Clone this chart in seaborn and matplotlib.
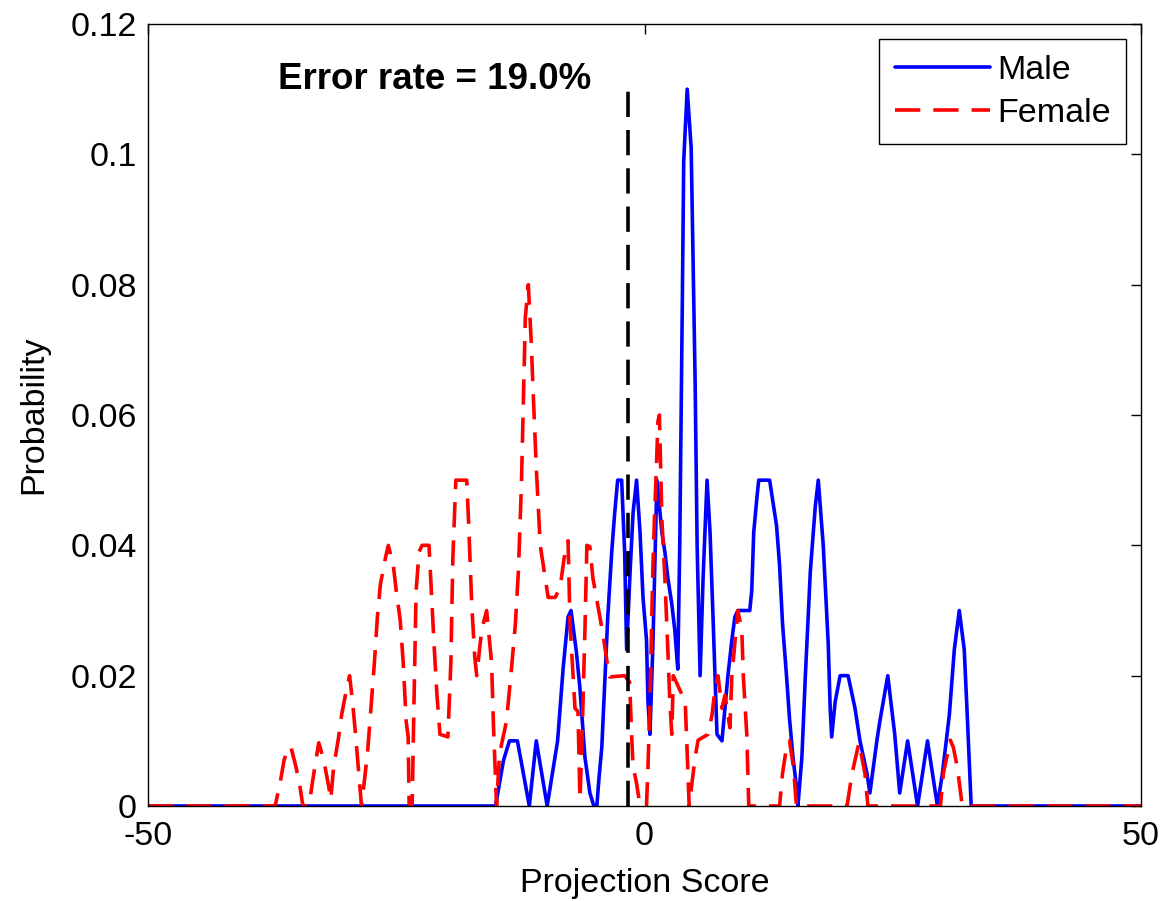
import numpy as np
import pandas as pd
import seaborn as sns
import matplotlib.pyplot as plt

# projection score vertices (x = score, y = probability)
male_x = [-50, -15.0, -14.2, -13.6, -12.8, -11.6, -10.9, -9.8, -8.75, -8.2, -7.7, -7.4,
          -6.85, -6.5, -6.0, -5.5, -5.1, -4.8, -4.6, -4.3, -4.0, -3.7, -3.3, -3.0, -2.7,
          -2.3, -2.0, -1.8, -1.45, -1.15, -0.8, -0.45, -0.15, 0.2, 0.35, 0.55, 0.85, 1.25,
          1.75, 2.05, 2.35, 2.75, 3.05, 3.35, 3.55, 3.8, 3.95, 4.3, 4.7, 4.9, 5.1, 5.3,
          5.6, 5.9, 6.3, 6.6, 6.9, 7.3, 7.8, 8.4, 8.8, 9.1, 9.4, 10.6, 10.8, 11.0, 11.3,
          11.5, 12.6, 13.3, 13.6, 13.9, 14.3, 14.6, 14.95, 15.3, 15.45, 15.85, 16.2, 16.7,
          17.2, 17.5, 18.0, 18.2, 18.5, 18.7, 18.85, 19.2, 19.7, 20.5, 21.2, 21.7, 22.4,
          22.7, 23.4, 23.7, 24.5, 25.2, 25.7, 26.5, 27.5, 28.5, 29.5, 30.0, 30.7, 31.2,
          31.7, 32.2, 32.5, 32.9, 50]
male_y = [0, 0, 0.007, 0.01, 0.01, 0, 0.01, 0, 0.01, 0.021, 0.029, 0.03,
          0.0235, 0.018, 0.0075, 0.002, 0, 0, 0.004, 0.009, 0.019, 0.029, 0.039, 0.045, 0.05,
          0.05, 0.039, 0.024, 0.036, 0.045, 0.05, 0.042, 0.032, 0.0255, 0.016, 0.011, 0.025, 0.05,
          0.042, 0.039, 0.035, 0.031, 0.027, 0.021, 0.04, 0.076, 0.099, 0.11, 0.101, 0.083, 0.065, 0.04,
          0.02, 0.035, 0.05, 0.042, 0.029, 0.011, 0.01, 0.02, 0.0255, 0.029, 0.03, 0.03, 0.033, 0.042, 0.047,
          0.05, 0.05, 0.043, 0.037, 0.028, 0.02, 0.0135, 0.0075, 0.003, 0, 0.0075, 0.02, 0.036,
          0.046, 0.05, 0.04, 0.034, 0.025, 0.015, 0.0106, 0.016, 0.02, 0.02, 0.015, 0.01, 0.005,
          0.002, 0.01, 0.013, 0.02, 0.011, 0.002, 0.01, 0, 0.01, 0, 0.005, 0.014, 0.024,
          0.03, 0.024, 0.014, 0, 0]

female_x = [-50, -37.2, -36.7, -36.3, -35.9, -35.6, -35.1, -34.7, -34.4, -33.8, -33.4, -33.1,
            -32.8, -32.3, -31.8, -31.6, -31.3, -30.8, -30.5, -30.0, -29.7, -29.4, -29.1, -28.8,
            -28.5, -28.2, -27.9, -27.5, -27.2, -26.9, -26.6, -26.1, -25.8, -25.3, -25.0, -24.6,
            -24.3, -24.0, -23.8, -23.7, -23.4, -23.2, -23.0, -22.7, -22.4, -21.7, -21.4, -21.2,
            -20.9, -20.6, -19.8, -19.5, -19.3, -19.0, -17.9, -17.7, -17.4, -17.1, -16.9, -16.4,
            -15.9, -15.4, -15.2, -14.9, -14.6, -13.9, -13.4, -13.0, -12.7, -12.4, -12.0, -11.7,
            -11.4, -11.2, -10.9, -10.5, -10.0, -9.7, -9.0, -8.5, -8.1, -7.7, -7.5, -7.0, -6.7,
            -6.5, -6.3, -6.0, -5.8, -5.5, -5.2, -4.8, -4.5, -4.2, -3.8, -3.5, -2.0, -1.5, -1.3,
            -1.15, -0.8, -0.45, 0.2, 0.35, 0.55, 0.7, 0.85, 1.0, 1.2, 1.35, 1.5, 1.75, 2.05,
            2.35, 2.55, 2.75, 2.9, 4.1, 4.3, 4.5, 5.1, 5.4, 6.4, 6.8, 7.1, 7.4, 7.8, 8.1, 8.6,
            8.8, 9.4, 9.8, 9.95, 10.3, 10.5, 13.6, 13.9, 14.3, 14.6, 15.0, 15.3, 20.4, 20.9,
            21.2, 21.6, 22.2, 22.5, 29.8, 30.1, 30.8, 31.1, 31.5, 32.0, 50]
female_y = [0, 0, 0.0035, 0.007, 0.009, 0.009, 0.006, 0.003, 0, 0, 0.004, 0.007,
            0.0097, 0.007, 0.003, 0.001, 0.006, 0.0106, 0.014, 0.018, 0.02, 0.016, 0.011, 0.0055,
            0, 0.004, 0.008, 0.016, 0.022, 0.029, 0.034, 0.038, 0.04, 0.037, 0.033, 0.0285,
            0.022, 0.013, 0.0106, 0, 0, 0.017, 0.033, 0.039, 0.04, 0.04, 0.031, 0.025,
            0.017, 0.011, 0.0106, 0.022, 0.038, 0.05, 0.05, 0.043, 0.031, 0.023, 0.02, 0.027,
            0.03, 0.022, 0.012, 0, 0.008, 0.013, 0.021, 0.028, 0.036, 0.049, 0.075, 0.08,
            0.071, 0.063, 0.052, 0.04, 0.035, 0.032, 0.032, 0.0335, 0.038, 0.0407, 0.028, 0.015, 0.0145,
            0.001, 0.0097, 0.027, 0.04, 0.0398, 0.035, 0.0316, 0.029, 0.0265, 0.0224, 0.0198, 0.02, 0.019, 0.011,
            0.006, 0.0035, 0, 0, 0.006, 0.016, 0.0265, 0.037, 0.044, 0.052, 0.059, 0.06, 0.044, 0.035,
            0.024, 0.016, 0.011, 0.02, 0.016, 0.008, 0, 0.0075, 0.0101, 0.011, 0.014, 0.018, 0.02, 0.015, 0.017, 0.012,
            0.02, 0.03, 0.027, 0.02, 0.011, 0, 0, 0.005, 0.009, 0.01, 0.006, 0, 0, 0.005,
            0.007, 0.0097, 0.005, 0, 0, 0.005, 0.0101, 0.009, 0.006, 0, 0]

threshold = -1.7
threshold_top = 0.11
error_label = "Error rate = 19.0%"
error_pos = (-36.9, 0.11)

x_ticks = [-50, 0, 50]
x_tick_labels = ["-50", "0", "50"]
y_ticks = [0, 0.02, 0.04, 0.06, 0.08, 0.1, 0.12]
y_tick_labels = ["0", "0.02", "0.04", "0.06", "0.08", "0.1", "0.12"]

male = pd.DataFrame({"score": male_x, "prob": male_y})
female = pd.DataFrame({"score": female_x, "prob": female_y})

sns.set_theme(style="white")
plt.rcParams['font.family'] = ['Liberation Sans', 'DejaVu Sans']
plt.rcParams['text.color'] = 'black'
plt.rcParams['axes.labelcolor'] = 'black'

fs = 24.5
dash = (0, (7, 3.6))

fig = plt.figure(figsize=(11.65, 9.01), dpi=100)
ax = fig.add_axes([148 / 1165, 1 - 806 / 901, (1141 - 148) / 1165, (806 - 24) / 901])

sns.lineplot(data=male, x="score", y="prob", color="#0000ff", lw=2.6,
             sort=False, estimator=None, label="Male", ax=ax)
sns.lineplot(data=female, x="score", y="prob", color="#ff0000", lw=2.6, linestyle=dash,
             sort=False, estimator=None, label="Female", ax=ax)
ax.vlines(threshold, 0, threshold_top, colors="black", linestyles=dash, lw=2.6)

ax.text(error_pos[0], error_pos[1], error_label, fontsize=26.5, fontweight="bold",
        ha="left", va="baseline", color="black")

ax.set_xlim(-50, 50)
ax.set_ylim(0, 0.12)
ax.set_xticks(x_ticks)
ax.set_xticklabels(x_tick_labels)
ax.set_yticks(y_ticks)
ax.set_yticklabels(y_tick_labels)
ax.tick_params(direction="in", length=7, width=1, top=True, right=True,
               labelsize=fs, colors="black")
ax.tick_params(axis="x", pad=11)
ax.tick_params(axis="y", pad=8)
for sp in ax.spines.values():
    sp.set_color("black")
    sp.set_linewidth(1.0)

ax.set_xlabel("Projection Score", fontsize=fs, labelpad=11, color="black")
ax.set_ylabel("Probability", fontsize=fs, labelpad=15, color="black")

leg = ax.legend(loc="upper right", fontsize=fs, frameon=True, fancybox=False,
                edgecolor="black", framealpha=1, handlelength=2.8, handletextpad=0.2,
                borderpad=0.45, labelspacing=0.35, borderaxespad=0.45)
leg.get_frame().set_linewidth(1.0)
for t in leg.get_texts():
    t.set_color("black")

fig.savefig("out.png", dpi=100, facecolor="white")
